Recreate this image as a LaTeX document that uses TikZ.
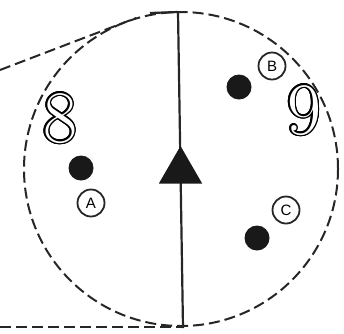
\documentclass[tikz,border=0pt]{standalone}
\usepackage{fontspec}
\setsansfont{Liberation Sans}
\usepackage{contour}
\contourlength{1.4pt}
\usetikzlibrary{shapes.geometric}
\begin{document}
\begin{tikzpicture}[x=1pt,y=-1pt,
  dashline/.style={line width=2pt, dash pattern=on 11pt off 5pt, black!85},
  mainline/.style={line width=2.2pt, black!85},
  dot/.style={circle, fill=black!90, minimum size=25pt, inner sep=0pt},
  tag/.style={circle, draw=black!85, line width=1.8pt, minimum size=27pt, inner sep=0pt, font=\sffamily\fontsize{15}{15}\selectfont},
  digit/.style={inner sep=0pt, font=\fontsize{74}{74}\selectfont},
  tri/.style={regular polygon, regular polygon sides=3, fill=black!90, minimum size=50pt, inner sep=0pt}]
\useasboundingbox (0,0) rectangle (344,333);
% ring
\node[circle, draw=black!85, dashline, minimum size=314pt, inner sep=0pt] (ring) at (181,169) {};
% tangent-like dashed lines
\coordinate (ul) at (0,70);
\coordinate (ut) at (136,18);
\coordinate (bl) at (0,327);
\coordinate (bt) at (183,327);
\draw[dashline] (ul) -- (ut);
\draw[dashline] (bl) -- (bt);
% axis line
\coordinate (top) at (178,12);
\coordinate (bot) at (183,328);
\coordinate (topl) at (150,13);
\draw[mainline] (topl) -- (top);
\draw[mainline] (top) -- (bot);
% triangle
\node[tri] (arrow) at (180.5,171) {};
% dots and labels
\node[dot] (da) at (81,168) {};
\node[tag] (la) at (91,203) {A};
\node[dot] (db) at (239,87) {};
\node[tag] (lb) at (272,66) {B};
\node[dot] (dc) at (257,238) {};
\node[tag] (lc) at (286,210) {C};
% digits
\node[digit] (eight) at (60,119) {\contour{black}{\textcolor{white}{8}}};
\node[digit] (nine) at (304,111) {\contour{black}{\textcolor{white}{9}}};
\end{tikzpicture}
\end{document}
